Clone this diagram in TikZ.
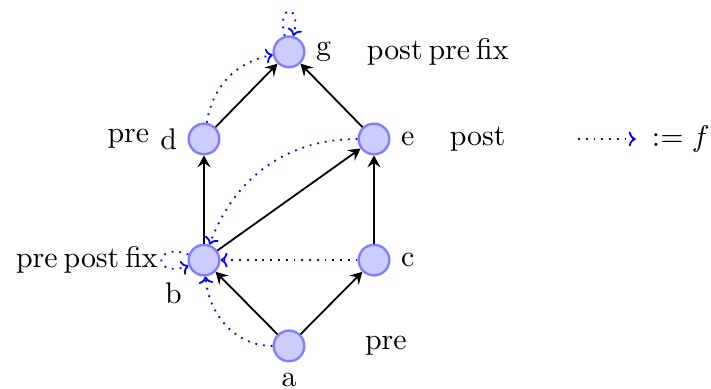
\documentclass[tikz,border=0pt]{standalone}
\usepackage{amsmath,amssymb}
\usepackage{xcolor}
\usepackage{tikz}
\usetikzlibrary{positioning,arrows.meta}

\begin{document}
\begin{tikzpicture}[
  node distance=1.01cm and 1cm, on grid,
  vtx/.style={circle, draw=blue!50, fill=blue!20, thick, minimum size=3.6mm, inner sep=0pt},
  arr/.style={-{Stealth[length=4pt, width=4.4pt, inset=1.5pt]}, semithick},
  fn/.style={-{To[scale=0.8]}, blue, dotted, semithick}]
  \useasboundingbox (-3.4,-0.506) rectangle (4.965,4.07);
  \node[vtx, label=below:a] (a) {};
  \node[vtx, label=below left:b, above left=of a] (b) {};
  \node[vtx, label=right:c, above right=of a] (c) {};
  \node[vtx, label=left:d, above=1.425cm of b] (d) {};
  \node[vtx, label=right:e, above=1.425cm of c] (e) {};
  \node[vtx, label=right:g, above right=1.025cm and 1cm of d] (g) {};
  % side texts
  \node[right=1.75cm of g] (gtxt) {post\hspace{0.2em}pre\hspace{0.2em}fix};
  \node[right=1.22cm of e] (etxt) {post};
  \node[left=0.89cm of d] (dtxt) {pre};
  \node[right=1.14cm of a] (atxt) {pre};
  \node[anchor=east] (btxt) at ([xshift=-4.2mm]b.center) {pre\hspace{0.2em}post\hspace{0.2em}fix};
  % legend
  \coordinate[right=2.4cm of e] (l1);
  \coordinate[right=3.08cm of e] (l2);
  \node[right=3.61cm of e] (ltxt) {$:= f$};
  \draw[fn] (l1) -- (l2);
  % graph
  \draw[arr] (a) -- (b); \draw[arr] (a) -- (c);
  \draw[arr] (b) -- (d); \draw[arr] (b) -- (e); \draw[arr] (c) -- (e);
  \draw[arr] (d) -- (g); \draw[arr] (e) -- (g);
  % the map f
  \draw[fn] (a) to[out=180, in=-85] (b);
  \draw[fn] (c) -- (b);
  \draw[fn] (b) to[out=160, in=200, min distance=4.5mm] (b);
  \draw[fn] (e) to[out=180, in=70] (b);
  \draw[fn] (d) to[bend left=35] (g);
  \draw[fn] (g) to[out=105, in=75, min distance=4mm] (g);
\end{tikzpicture}
\end{document}
